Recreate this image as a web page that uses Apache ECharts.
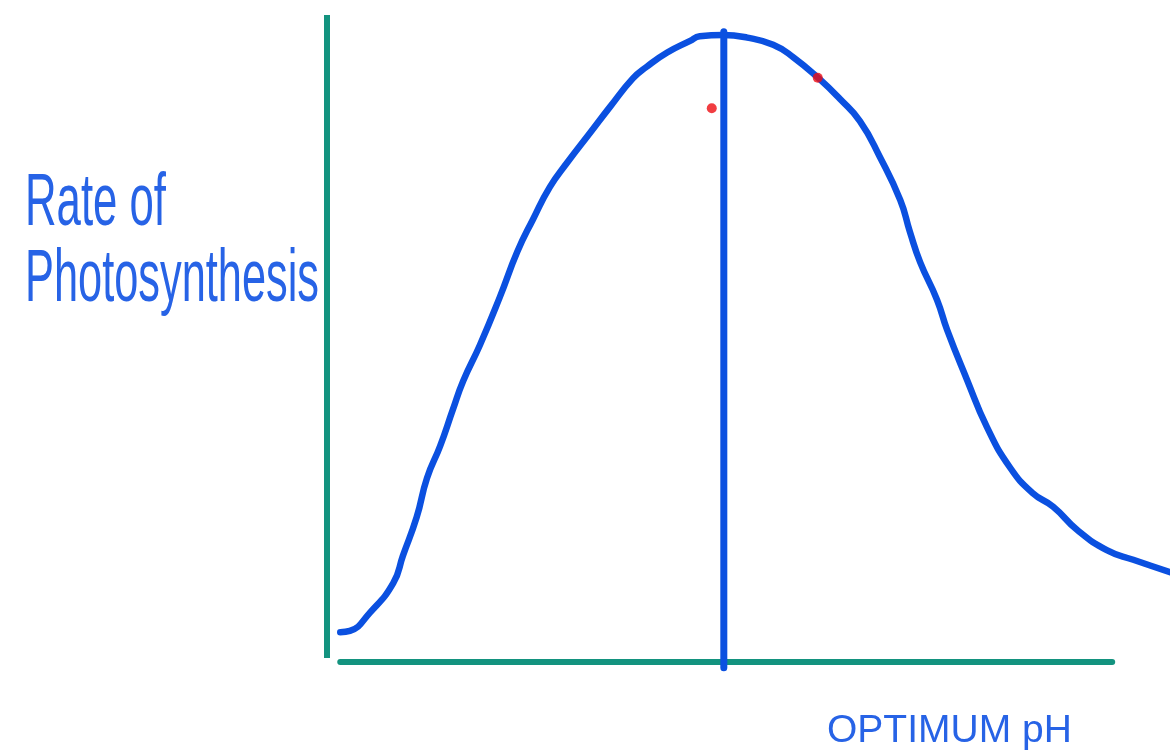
<!DOCTYPE html>
<html>
<head>
<meta charset="utf-8">
<title>Rate of Photosynthesis vs pH</title>
<script src="https://cdn.jsdelivr.net/npm/echarts@6/dist/echarts.min.js"></script>
<style>
  html, body { margin: 0; padding: 0; background: #ffffff; }
  #chart { width: 1170px; height: 751px; }
</style>
</head>
<body>
<div id="chart"></div>
<script>
// pH (x) and relative rate of photosynthesis in % of maximum (y)
const phValues = [0.22, 0.38, 0.71, 1.10, 1.26, 1.49, 1.66, 1.88, 2.09, 2.26, 2.54, 2.87,
  3.16, 3.42, 3.70, 3.99, 4.37, 4.70, 5.08, 5.31, 5.65, 6.03, 6.19, 6.58, 6.98, 7.41,
  7.74, 8.19, 8.52, 8.85, 9.18, 9.52, 9.68, 9.85, 10.13, 10.30, 10.63, 10.96, 11.34,
  11.72, 12.06, 12.46, 12.95, 13.39, 14.0];
const rateValues = [4.6, 4.8, 7.6, 12.2, 16.4, 22.4, 28.4, 33.4, 39.0, 43.4, 49.0, 56.4,
  63.4, 68.4, 73.4, 77.2, 81.8, 85.8, 90.2, 92.0, 94.2, 96.0, 96.7, 96.9, 96.5, 95.4,
  93.5, 90.0, 87.0, 83.6, 78.1, 71.4, 66.5, 61.8, 56.0, 51.3, 43.6, 36.3, 30.1,
  26.1, 24.0, 20.4, 17.3, 15.8, 13.9];

// optimum pH marker line (pH, rate range)
const optimumPh = 6.59;
const optimumRange = [-0.9, 97.4];

// hand-drawn axes (data extents)
const yAxisLine = [[0, 0.6], [0, 100]];
const xAxisLine = [[0.22, 0], [13.04, 0]];

// two small red marks near the peak
const redMarks = [[6.39, 85.6], [8.15, 90.3]];

const yLabelLines = ['Rate of', 'Photosynthesis'];
const xLabel = 'OPTIMUM pH';

const curve = phValues.map((p, i) => [p, rateValues[i]]);

const TEAL = '#13937f';
const BLUE = '#0b50e0';
const TEXT_BLUE = '#2763e6';
const FONT = '"Liberation Sans", Arial, sans-serif';

const chart = echarts.init(document.getElementById('chart'), null, { renderer: 'canvas' });

chart.setOption({
  backgroundColor: '#ffffff',
  animation: false,
  grid: { left: 327, right: 0, top: 15, bottom: 89 },
  xAxis: { type: 'value', min: 0, max: 14, show: false },
  yAxis: { type: 'value', min: 0, max: 100, show: false },
  series: [
    {
      type: 'line', data: yAxisLine, symbol: 'none', clip: false, silent: true,
      lineStyle: { color: TEAL, width: 6, cap: 'butt' }
    },
    {
      type: 'line', data: xAxisLine, symbol: 'none', clip: false, silent: true,
      lineStyle: { color: TEAL, width: 6, cap: 'round' }
    },
    {
      type: 'line', data: curve, symbol: 'none', smooth: 0.5, clip: false, silent: true,
      lineStyle: { color: BLUE, width: 6.5, cap: 'round', join: 'round' }
    },
    {
      type: 'line', data: optimumRange.map(r => [optimumPh, r]), symbol: 'none', clip: false, silent: true,
      lineStyle: { color: BLUE, width: 7, cap: 'round' }
    },
    {
      type: 'scatter', data: redMarks, symbol: 'circle', symbolSize: 10, clip: false, silent: true,
      z: 10, itemStyle: { color: '#ee0d12' }
    }
  ],
  graphic: [
    {
      type: 'text', x: 25, y: 204, scaleX: 0.583, silent: true,
      style: { x: 0, y: 0, text: yLabelLines[0], fill: TEXT_BLUE, font: '75px ' + FONT,
               textAlign: 'left', textVerticalAlign: 'middle' }
    },
    {
      type: 'text', x: 25, y: 280, scaleX: 0.578, silent: true,
      style: { x: 0, y: 0, text: yLabelLines[1], fill: TEXT_BLUE, font: '75px ' + FONT,
               textAlign: 'left', textVerticalAlign: 'middle' }
    },
    {
      type: 'text', x: 827, y: 731, silent: true,
      style: { x: 0, y: 0, text: xLabel, fill: TEXT_BLUE, font: '39px ' + FONT,
               textAlign: 'left', textVerticalAlign: 'middle' }
    }
  ]
});
</script>
</body>
</html>
